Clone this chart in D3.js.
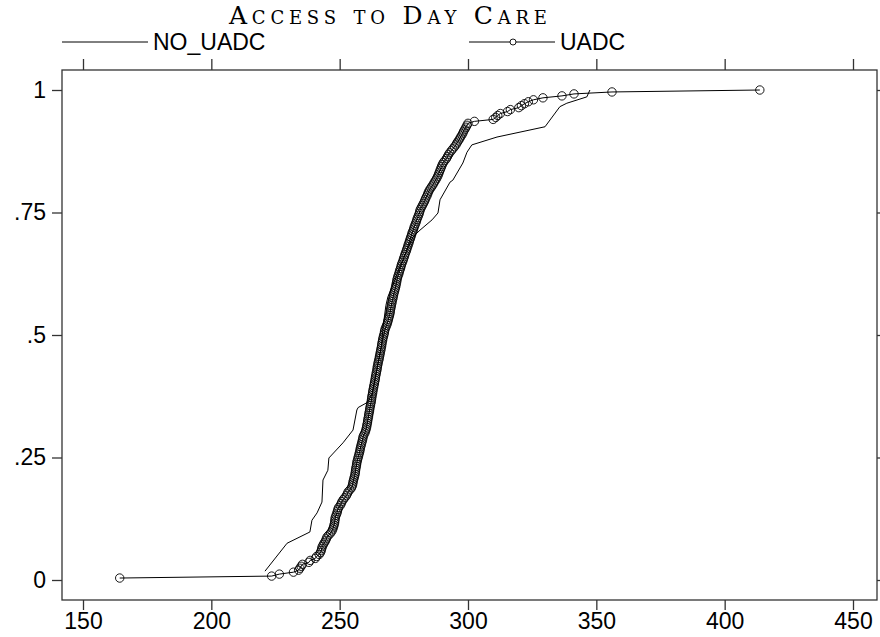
<!DOCTYPE html>
<html><head><meta charset="utf-8">
<script src="https://cdn.jsdelivr.net/npm/d3@7"></script>
<style>body{margin:0;background:#fff}svg{display:block}</style>
</head><body>
<script>
const title = "Access to Day Care";
const seriesNames = ["NO_UADC", "UADC"];
const xTicks = [150, 200, 250, 300, 350, 400, 450];
const yTicks = [0, 0.25, 0.5, 0.75, 1];
const yTickLabels = ["0", ".25", ".5", ".75", "1"];

// NO_UADC cumulative distribution (value, cumulative share)
const noX = [220.9, 229.5, 238.4, 239.2, 241.2, 243.1, 243.5, 245.4, 245.8, 251.3, 255.2, 256.7, 257.2, 261.0, 262.6, 264.5, 266.3, 267.0, 268.0, 268.8, 271.5, 273.5, 276.0, 278.5, 281.3, 286.0, 288.3, 289.1, 293.0, 294.1, 298.0, 299.6, 301.5, 311.3, 330.0, 335.8, 338.5, 346.3, 347.5];
const noP = [0.018, 0.075, 0.098, 0.122, 0.137, 0.159, 0.204, 0.224, 0.249, 0.280, 0.306, 0.347, 0.352, 0.363, 0.380, 0.430, 0.480, 0.520, 0.560, 0.578, 0.612, 0.640, 0.670, 0.700, 0.714, 0.735, 0.749, 0.776, 0.812, 0.816, 0.851, 0.873, 0.888, 0.904, 0.925, 0.966, 0.973, 0.986, 1.000];

// UADC sorted values (250 observations, cumulative share i/250)
const uadcX = [
164.3, 223.5, 226.5, 232.0, 234.0, 234.5, 235.0, 235.5, 238.0, 238.5,
240.5, 241.0, 242.0, 242.5, 242.8, 243.0, 243.2, 243.6, 244.0, 244.5,
244.8, 245.1, 245.8, 246.5, 247.0, 247.3, 247.6, 247.8, 248.0, 248.1,
248.2, 248.3, 248.6, 248.9, 249.1, 249.3, 249.6, 250.2, 250.6, 250.9,
251.4, 252.0, 252.6, 253.0, 253.3, 254.0, 254.6, 254.9, 255.1, 255.2,
255.4, 255.6, 255.8, 256.0, 256.1, 256.2, 256.3, 256.5, 256.6, 256.7,
256.9, 257.1, 257.3, 257.5, 257.7, 257.9, 258.0, 258.2, 258.4, 258.6,
258.8, 259.0, 259.1, 259.4, 259.8, 260.1, 260.3, 260.5, 260.6, 260.8,
260.9, 261.0, 261.2, 261.3, 261.4, 261.6, 261.7, 261.8, 262.0, 262.1,
262.3, 262.4, 262.5, 262.6, 262.8, 262.9, 263.0, 263.2, 263.3, 263.5,
263.6, 263.8, 263.9, 264.0, 264.2, 264.3, 264.5, 264.6, 264.7, 264.9,
265.0, 265.2, 265.4, 265.5, 265.7, 265.8, 266.0, 266.1, 266.3, 266.4,
266.5, 266.7, 266.8, 267.0, 267.2, 267.4, 267.5, 267.7, 268.0, 268.3,
268.6, 268.8, 269.0, 269.2, 269.4, 269.6, 269.7, 269.8, 270.0, 270.1,
270.3, 270.4, 270.6, 270.8, 270.9, 271.1, 271.3, 271.5, 271.7, 271.9,
272.0, 272.2, 272.3, 272.5, 272.7, 273.0, 273.2, 273.4, 273.7, 273.9,
274.1, 274.4, 274.7, 274.9, 275.2, 275.4, 275.7, 276.0, 276.2, 276.5,
276.7, 277.0, 277.2, 277.5, 277.7, 278.0, 278.2, 278.5, 278.8, 279.0,
279.3, 279.6, 279.9, 280.1, 280.4, 280.7, 281.0, 281.2, 281.4, 281.8,
282.2, 282.6, 283.0, 283.3, 283.6, 284.0, 284.3, 284.6, 285.0, 285.5,
286.0, 286.5, 286.9, 287.4, 287.8, 288.2, 288.5, 288.8, 289.1, 289.4,
289.7, 290.0, 290.4, 291.0, 291.6, 292.0, 292.4, 292.9, 293.5, 294.1,
294.7, 295.3, 295.7, 296.2, 296.7, 297.1, 297.6, 298.0, 298.3, 298.8,
299.2, 299.6, 300.0, 302.5, 309.8, 310.8, 311.6, 312.6, 315.4, 316.5,
319.8, 320.8, 322.0, 323.5, 325.5, 329.2, 336.6, 341.3, 356.1, 413.7];
const uadcP = uadcX.map((_, i) => (i + 1) / uadcX.length);

const W = 880, H = 637;
const svg = d3.select("body").append("svg").attr("width", W).attr("height", H);
const frame = {l: 62, r: 877, t: 70, b: 600};
const xScale = d3.scaleLinear().domain([150, 450]).range([83, 853]);
const yScale = d3.scaleLinear().domain([0, 1]).range([580, 90]);
const sans = "'Liberation Sans', Arial, sans-serif";
const axisCol = "#333";
const fs = 23;

// frame
svg.append("rect").attr("x", frame.l).attr("y", frame.t)
  .attr("width", frame.r - frame.l).attr("height", frame.b - frame.t)
  .attr("fill", "none").attr("stroke", axisCol).attr("stroke-width", 1.3);

// axes
const gBottom = svg.append("g").attr("transform", `translate(0,${frame.b})`)
  .call(d3.axisBottom(xScale).tickValues(xTicks).tickSize(10).tickPadding(3).tickFormat(d3.format("d")));
const gTop = svg.append("g").attr("transform", `translate(0,${frame.t})`)
  .call(d3.axisTop(xScale).tickValues(xTicks).tickSize(11).tickFormat(""));
const gLeft = svg.append("g").attr("transform", `translate(${frame.l},0)`)
  .call(d3.axisLeft(yScale).tickValues(yTicks).tickSize(10).tickPadding(6).tickFormat((d, i) => yTickLabels[i]));
const gRight = svg.append("g").attr("transform", `translate(${frame.r},0)`)
  .call(d3.axisRight(yScale).tickValues(yTicks).tickSize(10).tickFormat(""));
[gBottom, gTop, gLeft, gRight].forEach(g => {
  g.select(".domain").remove();
  g.selectAll(".tick line").attr("stroke", axisCol).attr("stroke-width", 1.3);
  g.selectAll("text").attr("font-family", sans).attr("font-size", fs).attr("fill", "#000");
});

// NO_UADC line
const noData = noX.map((v, i) => [v, noP[i]]);
const line = d3.line().x(d => xScale(d[0])).y(d => yScale(d[1]));
svg.append("path").datum(noData).attr("d", line)
  .attr("fill", "none").attr("stroke", "#000").attr("stroke-width", 1);

// UADC line + markers
const uData = uadcX.map((v, i) => [v, uadcP[i]]);
svg.append("path").datum(uData).attr("d", line)
  .attr("fill", "none").attr("stroke", "#000").attr("stroke-width", 1);
svg.append("g").selectAll("circle").data(uData).join("circle")
  .attr("cx", d => xScale(d[0])).attr("cy", d => yScale(d[1])).attr("r", 4.2)
  .attr("fill", "none").attr("stroke", "#000").attr("stroke-width", 0.9);

// title (small caps, widened by letter spacing to the reference width)
const tTitle = svg.append("text").attr("x", 388).attr("y", 24).attr("text-anchor", "middle")
  .attr("font-family", "'DejaVu Serif', 'Liberation Serif', serif")
  .style("font-variant", "small-caps").attr("font-size", 25)
  .text(title);
const natural = tTitle.node().getComputedTextLength();
const ls = Math.max(0, (318 - natural) / (title.length - 1));
tTitle.style("letter-spacing", ls + "px").attr("x", 388 + ls / 2);

// legend
const legY = 42;
const leg = [{x0: 62, name: seriesNames[0], marker: false}, {x0: 469, name: seriesNames[1], marker: true}];
leg.forEach(l => {
  svg.append("line").attr("x1", l.x0).attr("x2", l.x0 + 86).attr("y1", legY).attr("y2", legY)
    .attr("stroke", "#000").attr("stroke-width", 1);
  if (l.marker) svg.append("circle").attr("cx", l.x0 + 44).attr("cy", legY).attr("r", 3)
    .attr("fill", "#fff").attr("stroke", "#000").attr("stroke-width", 0.9);
  svg.append("text").attr("x", l.x0 + 91).attr("y", legY + 8).attr("font-family", sans)
    .attr("font-size", fs).text(l.name);
});
</script>
</body></html>
